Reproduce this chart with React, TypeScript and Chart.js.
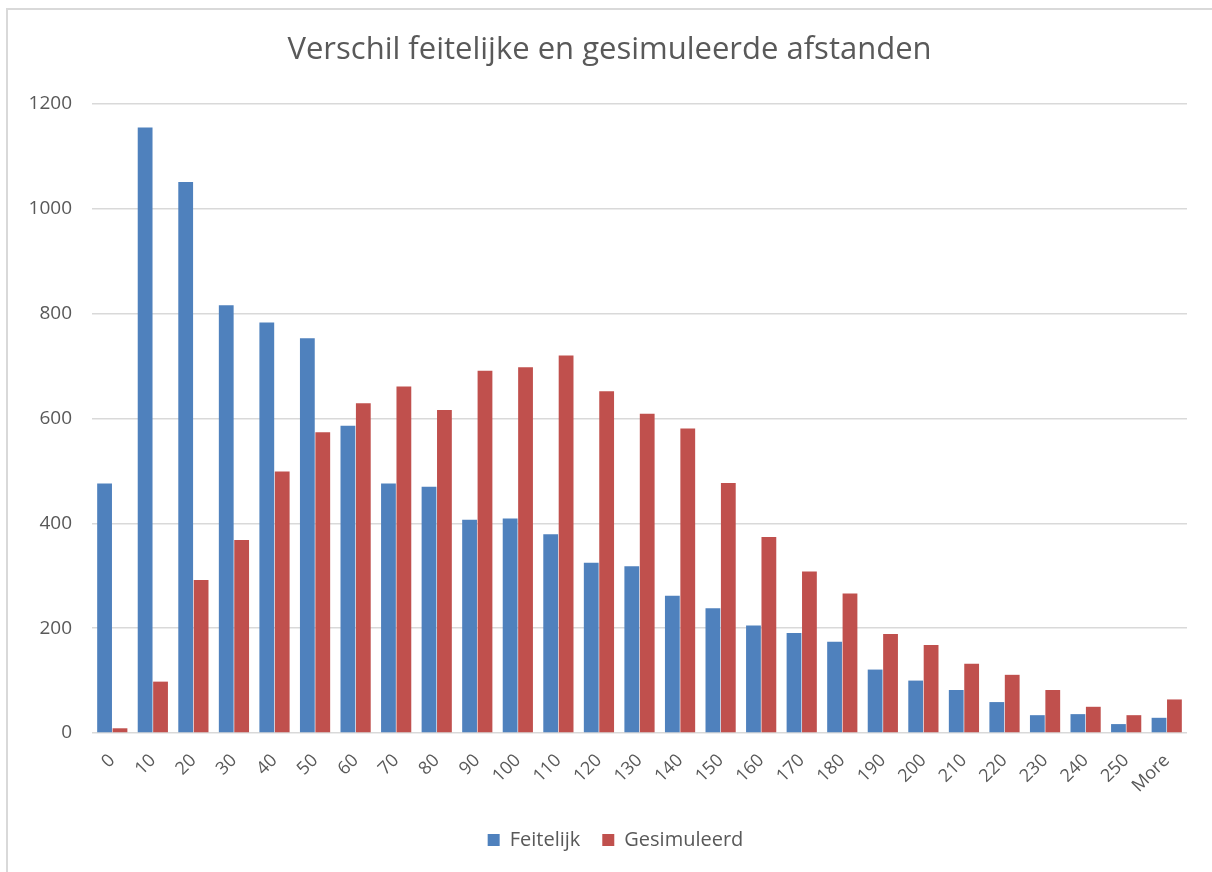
import React, { useEffect, useRef } from "react";
import { Chart, registerables } from "chart.js";

Chart.register(...registerables);

const titleText = "Verschil feitelijke en gesimuleerde afstanden";
const categories = ["0", "10", "20", "30", "40", "50", "60", "70", "80", "90", "100", "110", "120", "130", "140", "150", "160", "170", "180", "190", "200", "210", "220", "230", "240", "250", "More"];
const feitelijk = [476, 1155, 1051, 816, 783, 753, 586, 476, 470, 407, 409, 379, 325, 318, 262, 238, 205, 191, 174, 121, 100, 82, 59, 34, 36, 17, 29];
const gesimuleerd = [9, 98, 292, 368, 499, 574, 629, 661, 616, 691, 698, 720, 652, 609, 581, 477, 374, 308, 266, 189, 168, 132, 111, 82, 50, 34, 64];
const yMin = 0;
const yMax = 1200;
const yStep = 200;

const FONT = "'Open Sans', Lato, sans-serif";
const TEXT = "#595959";
const GRID = "#d9d9d9";

const shiftBoxes = {
  id: "shiftBoxes",
  afterLayout(chart: any) {
    if (chart.titleBlock) {
      chart.titleBlock.left += 16;
      chart.titleBlock.right += 16;
    }
    if (chart.legend) {
      chart.legend.left += 22;
      chart.legend.right += 22;
    }
  },
};

export default function App() {
  const ref = useRef<HTMLCanvasElement | null>(null);
  useEffect(() => {
    if (!ref.current) return;
    const chart = new Chart(ref.current, {
      type: "bar",
      data: {
        labels: categories,
        datasets: [
          { label: "Feitelijk", data: feitelijk, backgroundColor: "#4F81BD", categoryPercentage: 0.76, barPercentage: 0.96 },
          { label: "Gesimuleerd", data: gesimuleerd, backgroundColor: "#C0504D", categoryPercentage: 0.76, barPercentage: 0.96 },
        ],
      },
      options: {
        responsive: false,
        animation: false,
        layout: { padding: { left: 0, right: 25, top: 0, bottom: 12 } },
        plugins: {
          title: {
            display: true,
            text: titleText,
            color: TEXT,
            font: { family: FONT, size: 31, weight: "normal" },
            padding: { top: 31.5, bottom: 35.3 },
          },
          legend: {
            position: "bottom",
            labels: {
              color: TEXT,
              font: { family: FONT, size: 20 },
              boxWidth: 12,
              boxHeight: 12,
              padding: 22,
            },
          },
          tooltip: { enabled: false },
        },
        scales: {
          x: {
            grid: { display: false },
            border: { display: false },
            ticks: {
              color: TEXT,
              font: { family: FONT, size: 18 },
              minRotation: 45,
              maxRotation: 45,
              padding: 9,
              autoSkip: false,
            },
            afterFit: (s: any) => { s.height = 75; },
          },
          y: {
            min: yMin,
            max: yMax,
            grid: { color: GRID, lineWidth: 1.5, drawTicks: false },
            border: { display: false },
            ticks: {
              stepSize: yStep,
              color: TEXT,
              font: { family: FONT, size: 19 },
              padding: 20,
              callback: (v: any) => String(v),
            },
            afterFit: (s: any) => { s.width = 92; },
          },
        },
      },
      plugins: [shiftBoxes],
    });
    return () => chart.destroy();
  }, []);

  return (
    <div style={{ position: "absolute", left: 0, top: 0, width: 1212, height: 872, overflow: "hidden", background: "#fff" }}>
      <div style={{ position: "absolute", left: 6, top: 8, width: 1400, height: 1000, borderLeft: `2px solid ${GRID}`, borderTop: `2px solid ${GRID}` }} />
      <canvas ref={ref} width={1212} height={872} style={{ position: "absolute", left: 0, top: 0 }} />
    </div>
  );
}
